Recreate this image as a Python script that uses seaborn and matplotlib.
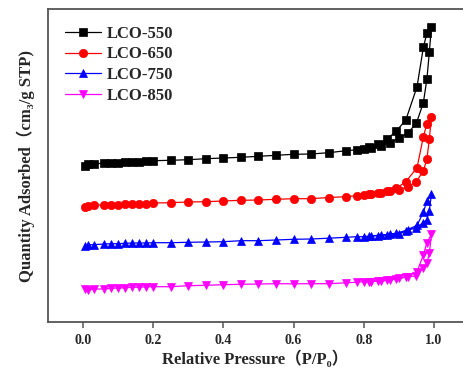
import matplotlib
matplotlib.use("Agg")
import matplotlib.pyplot as plt
import seaborn as sns
import numpy as np

# Relative pressure points (adsorption then desorption)
p_ads = [0.005, 0.015, 0.03, 0.06, 0.08, 0.10, 0.12, 0.14, 0.16, 0.18,
         0.20, 0.25, 0.30, 0.35, 0.40, 0.45, 0.50, 0.55, 0.60, 0.65,
         0.70, 0.75, 0.78, 0.80, 0.82, 0.85, 0.875, 0.90, 0.925, 0.95,
         0.97, 0.98, 0.987, 0.993]
p_des = [0.98, 0.97, 0.952, 0.92, 0.893, 0.866, 0.84, 0.815]

labels = ["LCO-550", "LCO-650", "LCO-750", "LCO-850"]

lco550_ads = [156.3, 157.7, 158.3, 158.7, 158.8, 159.3, 159.7, 160.0, 160.3, 160.7,
              161.3, 161.7, 162.3, 163.3, 164.0, 164.7, 165.7, 166.7, 167.7, 168.0,
              169.3, 171.3, 172.2, 173.0, 174.3, 176.3, 179.3, 183.7, 188.7, 198.7,
              219.3, 242.7, 269.7, 295.3]
lco550_des = [288.7, 274.7, 235.3, 202.0, 191.0, 182.7, 178.0, 175.3]

lco650_ads = [115.3, 116.0, 116.7, 117.0, 117.3, 117.3, 117.7, 118.0, 118.0, 118.3,
              119.0, 119.3, 120.0, 120.3, 121.0, 121.7, 122.0, 122.7, 123.3, 123.3,
              124.5, 125.3, 126.3, 127.0, 127.7, 129.3, 131.3, 132.0, 135.3, 140.3,
              151.3, 162.7, 182.7, 205.3]
lco650_des = [198.0, 185.3, 154.3, 140.3, 133.7, 131.5, 129.5, 128.0]

lco750_ads = [76.0, 77.3, 77.3, 78.0, 78.3, 78.3, 78.7, 79.0, 79.0, 79.0,
              79.3, 79.3, 79.7, 80.0, 80.3, 81.3, 81.3, 82.0, 82.7, 83.0,
              83.8, 84.7, 85.3, 85.3, 86.0, 87.0, 87.7, 87.7, 91.7, 94.3,
              99.5, 102.0, 111.5, 127.7]
lco750_des = [121.0, 109.7, 96.7, 91.5, 88.7, 87.3, 86.5, 85.8]

lco850_ads = [32.7, 32.0, 33.0, 33.0, 33.7, 34.0, 34.3, 34.7, 34.7, 35.3,
              35.3, 35.3, 36.3, 36.7, 37.3, 37.7, 38.0, 38.3, 38.2, 38.3,
              38.3, 39.2, 39.8, 40.3, 40.5, 41.0, 42.0, 43.7, 45.3, 46.0,
              53.7, 58.7, 68.7, 87.7]
lco850_des = [79.3, 67.0, 50.3, 45.0, 43.0, 41.7, 41.0, 40.5]

series = [(lco550_ads, lco550_des), (lco650_ads, lco650_des),
          (lco750_ads, lco750_des), (lco850_ads, lco850_des)]
colors = ["#000000", "#ff0000", "#0000ff", "#ff00ff"]
markers = ["s", "o", "^", "v"]

sns.set_style("ticks")
plt.rcParams["font.family"] = ["Liberation Serif", "DejaVu Serif", "Noto Sans CJK SC"]
plt.rcParams["font.weight"] = "bold"

fig = plt.figure(figsize=(4.63, 3.70), dpi=100)
ax = fig.add_axes([48 / 463, 48 / 370, 1 - 48 / 463, 313 / 370])

for (ads, des), lab, c, m in zip(series, labels, colors, markers):
    xs = p_ads + p_des
    ys = ads + des
    sns.lineplot(x=xs, y=ys, sort=False, estimator=None, color=c, marker=m,
                 markersize=6, markeredgecolor=c, markeredgewidth=0.5,
                 linewidth=0.9, label=lab, ax=ax)

ax.set_xlim(-0.1, 1.083)
ax.set_ylim(0, 313)
ax.set_xticks([0.0, 0.2, 0.4, 0.6, 0.8, 1.0])
ax.set_xticklabels(["0.0", "0.2", "0.4", "0.6", "0.8", "1.0"])
ax.set_yticks([])
for s in ["left", "top", "bottom"]:
    ax.spines[s].set_color("#555555")
    ax.spines[s].set_linewidth(1.3)
ax.spines["right"].set_visible(False)
ax.tick_params(axis="x", direction="out", length=4, width=1.1, color="#555555",
               labelsize=10, pad=5)
for t in ax.get_xticklabels():
    t.set_fontweight("bold")

ax.set_xlabel("Relative Pressure（P/P\u2080）", fontsize=12, fontweight="bold", labelpad=2)
ax.set_ylabel("Quantity Adsorbed（cm\u2083/g STP)", fontsize=12, fontweight="bold", labelpad=9)

leg = ax.legend(loc="upper left", frameon=False, fontsize=12, handlelength=2.2,
                labelspacing=0.28, handletextpad=0.35, borderaxespad=0.6,
                bbox_to_anchor=(0.0, 1.0))
for t in leg.get_texts():
    t.set_fontweight("bold")

fig.savefig("out.png", dpi=100)
